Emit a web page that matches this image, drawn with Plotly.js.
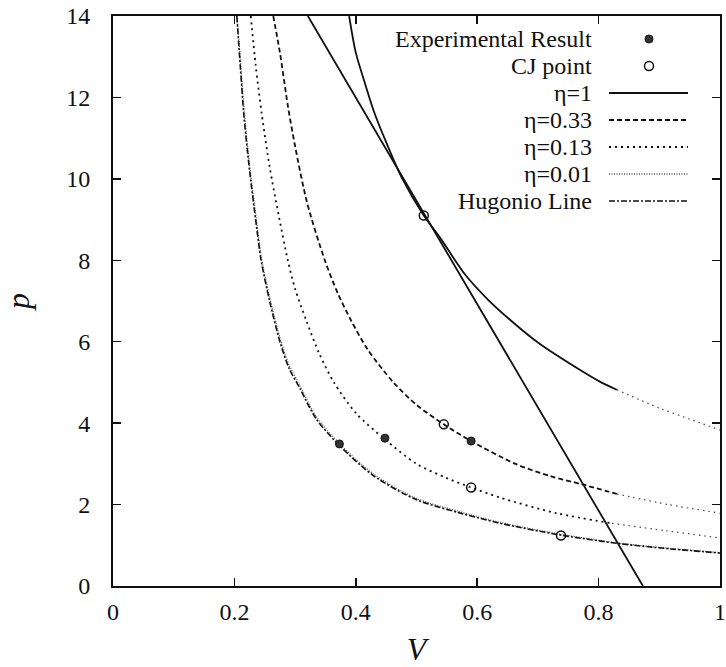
<!DOCTYPE html>
<html>
<head>
<meta charset="utf-8">
<script src="https://cdn.plot.ly/plotly-3.0.1.min.js"></script>
<style>html,body{margin:0;padding:0;background:#fff;}#chart{width:726px;height:667px;}</style>
</head>
<body>
<div id="chart"></div>
<script>
// Isentropes p(V) for several η, the Hugoniot curve and the Rayleigh line

// η = 1 (solid part, then its dotted tail)
const V_eta1 = [0.389, 0.400, 0.415, 0.430, 0.450, 0.475, 0.512, 0.539, 0.580, 0.618, 0.654, 0.700, 0.769, 0.802, 0.830];
const P_eta1 = [14.0, 13.1, 12.35, 11.65, 10.9, 10.05, 9.1, 8.55, 7.65, 7.03, 6.54, 5.98, 5.31, 5.02, 4.82];
const V_eta1_tail = [0.830, 0.900, 0.950, 1.0];
const P_eta1_tail = [4.82, 4.37, 4.10, 3.83];

// η = 0.33
const V_eta033 = [0.264, 0.275, 0.288, 0.300, 0.320, 0.349, 0.370, 0.393, 0.420, 0.462, 0.500, 0.545, 0.590, 0.663, 0.720, 0.772, 0.830];
const P_eta033 = [14.0, 13.1, 11.8, 10.8, 9.4, 8.0, 7.2, 6.5, 5.8, 5.0, 4.45, 3.97, 3.56, 3.0, 2.7, 2.5, 2.26];
const V_eta033_tail = [0.830, 0.915, 1.0];
const P_eta033_tail = [2.26, 2.0, 1.79];

// η = 0.13
const V_eta013 = [0.227, 0.235, 0.245, 0.258, 0.273, 0.288, 0.300, 0.319, 0.340, 0.364, 0.400, 0.448, 0.500, 0.550, 0.590, 0.638, 0.730, 0.822];
const P_eta013 = [14.0, 12.8, 11.6, 10.3, 9.1, 8.0, 7.3, 6.5, 5.7, 5.0, 4.25, 3.6, 3.0, 2.65, 2.42, 2.17, 1.79, 1.54];
const V_eta013_tail = [0.822, 0.910, 1.0];
const P_eta013_tail = [1.54, 1.36, 1.18];

// η = 0.01
const V_eta001 = [0.204, 0.210, 0.216, 0.225, 0.235, 0.244, 0.258, 0.275, 0.290, 0.308, 0.335, 0.373, 0.430, 0.500, 0.570, 0.638, 0.738, 0.835, 0.920, 1.0];
const P_eta001 = [14.0, 12.9, 11.7, 10.35, 9.15, 8.12, 7.1, 6.1, 5.43, 4.92, 4.16, 3.5, 2.74, 2.15, 1.83, 1.56, 1.27, 1.05, 0.92, 0.82];

// Hugoniot curve
const V_hug = [0.204, 0.210, 0.216, 0.225, 0.235, 0.244, 0.258, 0.275, 0.290, 0.308, 0.335, 0.373, 0.430, 0.500, 0.570, 0.638, 0.738, 0.835, 0.920, 1.0];
const P_hug = [14.0, 12.7, 11.5, 10.2, 9.0, 8.0, 7.0, 6.0, 5.35, 4.85, 4.1, 3.45, 2.7, 2.12, 1.8, 1.54, 1.25, 1.04, 0.91, 0.81];

// Rayleigh line through the CJ point
const V_ray = [0.321, 0.873];
const P_ray = [14.0, 0.0];

// Measured points and CJ points
const V_exp = [0.373, 0.448, 0.590];
const P_exp = [3.49, 3.63, 3.56];
const V_cj = [0.512, 0.545, 0.590, 0.738];
const P_cj = [9.1, 3.97, 2.42, 1.24];

// Legend entries
const legendLabels = ["Experimental Result", "CJ point", "η=1", "η=0.33", "η=0.13", "η=0.01", "Hugonio Line"];

const SERIF = "Liberation Serif, Times New Roman, serif";
const INK = "#111";

const styles = {
  eta1:   {color: INK, width: 1.8, dash: "solid"},
  eta033: {color: INK, width: 1.8, dash: "5px,3px"},
  eta013: {color: INK, width: 1.8, dash: "2px,4px"},
  eta001: {color: "#555", width: 1.3, dash: "1px,1.5px"},
  hug:    {color: INK, width: 1.6, dash: "6px,2px,2px,2px"},
  tail:   {color: "#444", width: 1.2, dash: "1.5px,4px"}
};

function line(x, y, st) {
  return {x, y, type: "scatter", mode: "lines", line: Object.assign({shape: "spline", smoothing: 0.8}, st),
          hoverinfo: "skip", showlegend: false};
}

const traces = [
  line(V_eta001, P_eta001, styles.eta001),
  line(V_hug, P_hug, styles.hug),
  line(V_eta013, P_eta013, styles.eta013),
  line(V_eta013_tail, P_eta013_tail, styles.tail),
  line(V_eta033, P_eta033, styles.eta033),
  line(V_eta033_tail, P_eta033_tail, styles.tail),
  line(V_eta1, P_eta1, styles.eta1),
  line(V_eta1_tail, P_eta1_tail, styles.tail),
  {x: V_ray, y: P_ray, type: "scatter", mode: "lines", line: {color: INK, width: 1.8},
   hoverinfo: "skip", showlegend: false},
  {x: V_exp, y: P_exp, type: "scatter", mode: "markers",
   marker: {symbol: "circle", size: 8, color: "#333", line: {color: "#111", width: 1}},
   showlegend: false, cliponaxis: false},
  {x: V_cj, y: P_cj, type: "scatter", mode: "markers",
   marker: {symbol: "circle-open", size: 9, color: "#111", line: {width: 1.5}},
   showlegend: false, cliponaxis: false}
];

// Legend samples, drawn on a hidden overlay axis spanning the plot area (0..1)
const plotL = 113, plotR = 720, plotT = 16, plotB = 586;
const fx = px => (px - plotL) / (plotR - plotL);
const fy = py => (plotB - py) / (plotB - plotT);
const rowY = [39, 66, 93, 120, 147, 174, 201];
const sampleX0 = fx(609), sampleX1 = fx(688), markX = fx(649), textX = fx(593);

traces.push({x: [markX], y: [fy(rowY[0])], xaxis: "x2", yaxis: "y2", type: "scatter", mode: "markers",
  marker: {symbol: "circle", size: 8, color: "#333", line: {color: "#111", width: 1}}, showlegend: false, hoverinfo: "skip", cliponaxis: false});
traces.push({x: [markX], y: [fy(rowY[1])], xaxis: "x2", yaxis: "y2", type: "scatter", mode: "markers",
  marker: {symbol: "circle-open", size: 9, color: "#111", line: {width: 1.5}}, showlegend: false, hoverinfo: "skip", cliponaxis: false});
[styles.eta1, styles.eta033, styles.eta013, styles.eta001, styles.hug].forEach((st, i) => {
  const y = fy(rowY[i + 2]);
  traces.push({x: [sampleX0, sampleX1], y: [y, y], xaxis: "x2", yaxis: "y2", type: "scatter", mode: "lines",
    line: Object.assign({}, st), showlegend: false, hoverinfo: "skip"});
});

const annotations = legendLabels.map((t, i) => ({
  text: t, xref: "paper", yref: "paper", x: textX, y: fy(rowY[i]),
  xanchor: "right", yanchor: "middle", showarrow: false, borderpad: 0,
  font: {family: SERIF, size: 24, color: INK}
}));

const axisCommon = {
  showline: true, linecolor: INK, linewidth: 2, mirror: "ticks",
  ticks: "inside", ticklen: 8, tickwidth: 1.5, tickcolor: INK,
  showgrid: false, zeroline: false,
  tickfont: {family: SERIF, size: 24, color: INK}
};

const layout = {
  width: 726, height: 667,
  margin: {l: plotL, r: 726 - plotR, t: plotT, b: 667 - plotB},
  paper_bgcolor: "#fff", plot_bgcolor: "#fff",
  showlegend: false,
  xaxis: Object.assign({}, axisCommon, {range: [0, 1], tickvals: [0, 0.2, 0.4, 0.6, 0.8, 1],
    ticktext: ["0", "0.2", "0.4", "0.6", "0.8", "1"], ticklabelstandoff: 3,
    title: {text: "V", standoff: 14, font: {family: SERIF, size: 32, color: INK, style: "italic"}}}),
  yaxis: Object.assign({}, axisCommon, {range: [0, 14], tickvals: [0, 2, 4, 6, 8, 10, 12, 14],
    ticklabelstandoff: 16,
    title: {text: "p", standoff: 30, font: {family: SERIF, size: 32, color: INK, style: "italic"}}}),
  xaxis2: {overlaying: "x", range: [0, 1], visible: false, fixedrange: true},
  yaxis2: {overlaying: "y", range: [0, 1], visible: false, fixedrange: true},
  annotations
};

Plotly.newPlot("chart", traces, layout, {staticPlot: true, displayModeBar: false});
</script>
</body>
</html>
